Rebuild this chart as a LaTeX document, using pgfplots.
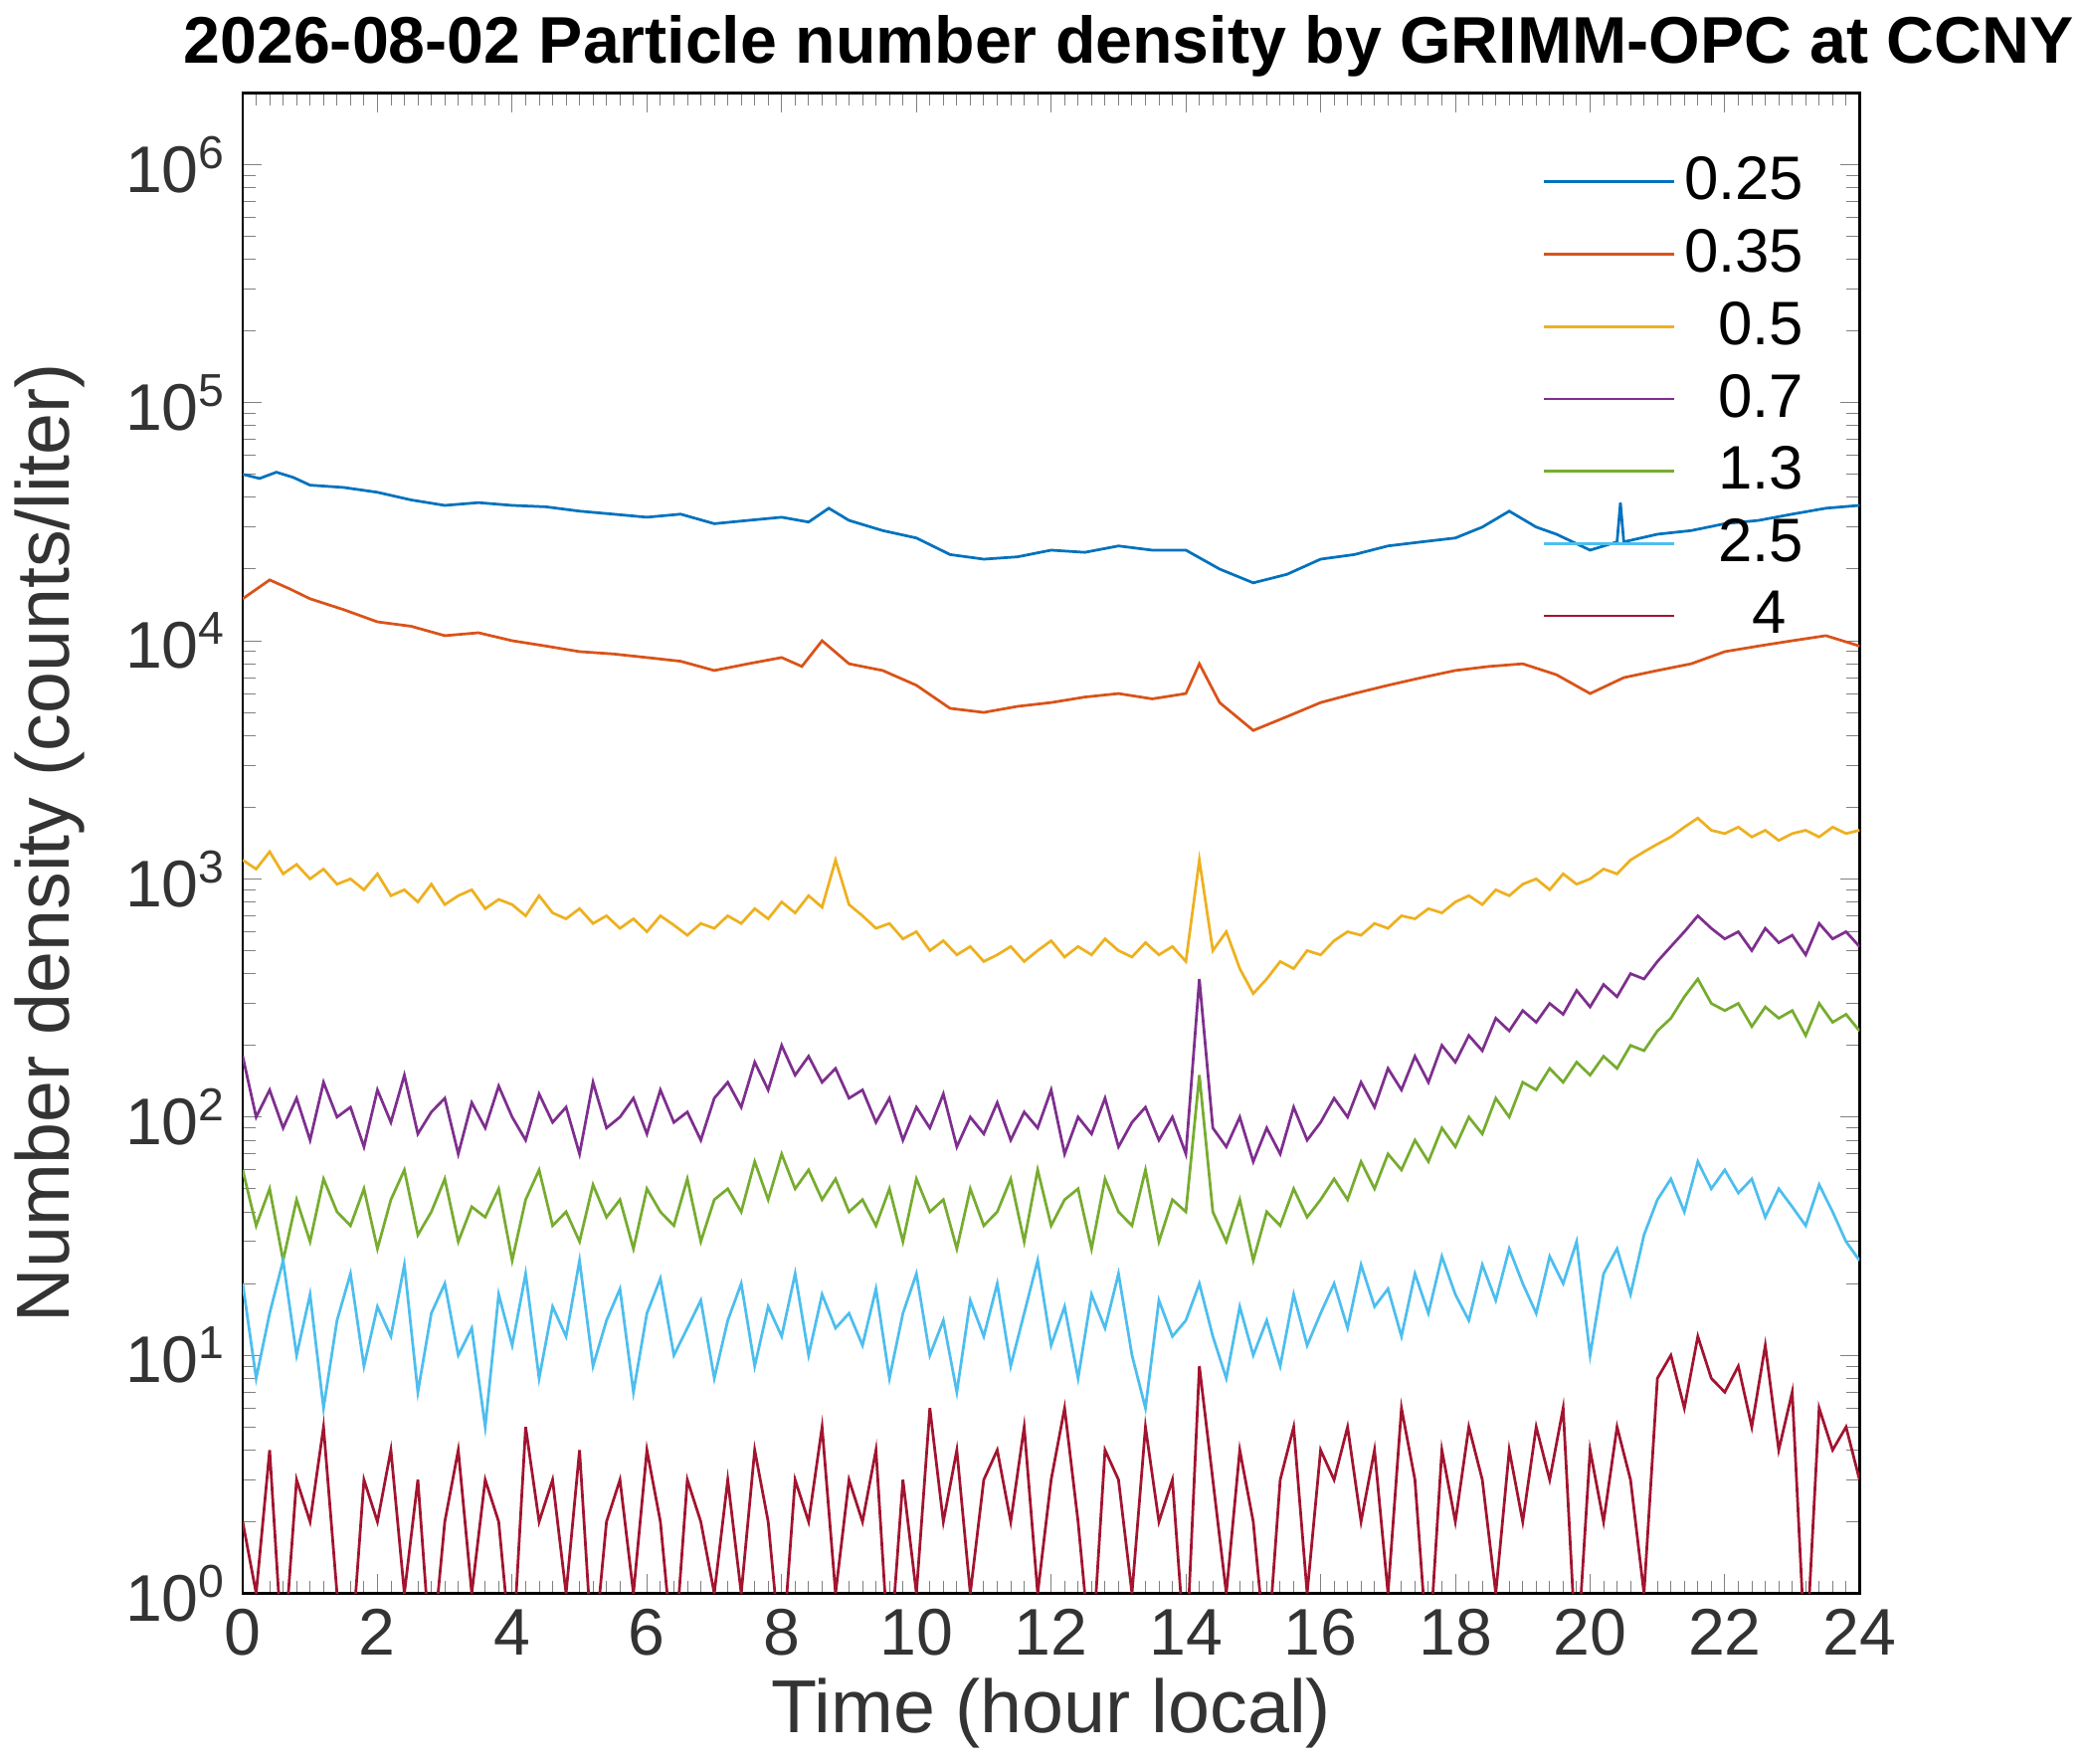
\documentclass[border=0pt]{standalone}
\usepackage{pgfplots}
\pgfplotsset{compat=1.18}
\usepackage{fontspec}
\setmainfont{Liberation Sans}
\definecolor{c1}{HTML}{0072BD}\definecolor{c2}{HTML}{D95319}\definecolor{c3}{HTML}{EDB120}
\definecolor{c4}{HTML}{7E2F8E}\definecolor{c5}{HTML}{77AC30}\definecolor{c6}{HTML}{4DBEEE}\definecolor{c7}{HTML}{A2142F}
\begin{document}
\begin{tikzpicture}
\begin{axis}[scale only axis, width=12.5cm, height=11.6cm,
 ymode=log, ymin=1, ymax=2e6, xmin=0, xmax=24, xtick={0,2,...,24},
 ytick={1,10,100,1000,10000,100000,1000000},
 yticklabels={10\textsuperscript{0},10\textsuperscript{1},10\textsuperscript{2},10\textsuperscript{3},10\textsuperscript{4},10\textsuperscript{5},10\textsuperscript{6}},
 minor x tick num=9, tick align=inside, axis line style={line width=0.6pt},
 /pgf/number format/assume math mode=true,
 ticklabel style={font=\fontsize{14.5}{16}\selectfont, color=black!80},
 xlabel={Time (hour local)}, ylabel={Number density (counts/liter)},
 xlabel style={yshift=2pt}, ylabel style={yshift=2pt},
 label style={font=\fontsize{16.5}{18}\selectfont, color=black!80},
 title={\textbf{2026-08-02 Particle number density by GRIMM-OPC at CCNY}},
 title style={font=\fontsize{14.5}{16}\selectfont, yshift=-6pt, xshift=0.6cm},
 legend style={at={(0.98,0.97)}, anchor=north east, draw=none, fill=none, font=\fontsize{13.5}{15}\selectfont, row sep=1pt},
 legend cell align=right,
 legend image code/.code={\draw[#1] (0cm,0cm) -- (1.0cm,0cm);},
 every axis plot/.append style={line width=0.6pt}, clip=true]
\addplot[c1] coordinates {(0,50000)(0.25,48000)(0.5,51000)(0.75,48500)(1,45000)(1.5,44000)(2,42000)(2.5,39000)(3,37000)(3.5,38000)(4,37000)(4.5,36500)(5,35000)(5.5,34000)(6,33000)(6.5,34000)(7,31000)(7.5,32000)(8,33000)(8.4,31500)(8.7,36000)(9,32000)(9.5,29000)(10,27000)(10.5,23000)(11,22000)(11.5,22500)(12,24000)(12.5,23500)(13,25000)(13.5,24000)(14,24000)(14.5,20000)(15,17500)(15.5,19000)(16,22000)(16.5,23000)(17,25000)(17.5,26000)(18,27000)(18.4,30000)(18.8,35000)(19.2,30000)(19.5,28000)(20,24000)(20.4,26000)(20.45,38000)(20.5,26000)(21,28000)(21.5,29000)(22,31000)(22.5,32000)(23,34000)(23.5,36000)(24,37000)};
\addplot[c2] coordinates {(0,15000)(0.4,18000)(0.7,16500)(1,15000)(1.5,13500)(2,12000)(2.5,11500)(3,10500)(3.5,10800)(4,10000)(4.5,9500)(5,9000)(5.5,8800)(6,8500)(6.5,8200)(7,7500)(7.5,8000)(8,8500)(8.3,7800)(8.6,10000)(9,8000)(9.5,7500)(10,6500)(10.5,5200)(11,5000)(11.5,5300)(12,5500)(12.5,5800)(13,6000)(13.5,5700)(14,6000)(14.2,8000)(14.5,5500)(15,4200)(15.5,4800)(16,5500)(16.5,6000)(17,6500)(17.5,7000)(18,7500)(18.5,7800)(19,8000)(19.5,7200)(20,6000)(20.5,7000)(21,7500)(21.5,8000)(22,9000)(22.5,9500)(23,10000)(23.5,10500)(24,9500)};
\addplot[c3] table[row sep=\\, header=false, x expr=\coordindex/5, y index=0] {1200\\1100\\1300\\1050\\1150\\1000\\1100\\950\\1000\\900\\1050\\850\\900\\800\\950\\780\\850\\900\\750\\820\\780\\700\\850\\720\\680\\750\\650\\700\\620\\680\\600\\700\\640\\580\\650\\620\\700\\650\\750\\680\\800\\720\\850\\760\\1200\\780\\700\\620\\650\\560\\600\\500\\550\\480\\520\\450\\480\\520\\450\\500\\550\\470\\520\\480\\560\\500\\470\\540\\480\\520\\450\\1200\\500\\600\\420\\330\\380\\450\\420\\500\\480\\550\\600\\580\\650\\620\\700\\680\\750\\720\\800\\850\\780\\900\\850\\950\\1000\\900\\1050\\950\\1000\\1100\\1050\\1200\\1300\\1400\\1500\\1650\\1800\\1600\\1550\\1650\\1500\\1600\\1450\\1550\\1600\\1500\\1650\\1550\\1600\\};
\addplot[c4] table[row sep=\\, header=false, x expr=\coordindex/5, y index=0] {180\\100\\130\\90\\120\\80\\140\\100\\110\\75\\130\\95\\150\\85\\105\\120\\70\\115\\90\\135\\100\\80\\125\\95\\110\\70\\140\\90\\100\\120\\85\\130\\95\\105\\80\\120\\140\\110\\170\\130\\200\\150\\180\\140\\160\\120\\130\\95\\120\\80\\110\\90\\125\\75\\100\\85\\115\\80\\105\\90\\130\\70\\100\\85\\120\\75\\95\\110\\80\\100\\70\\380\\90\\75\\100\\65\\90\\70\\110\\80\\95\\120\\100\\140\\110\\160\\130\\180\\140\\200\\170\\220\\190\\260\\230\\280\\250\\300\\270\\340\\290\\360\\320\\400\\380\\450\\520\\600\\700\\620\\560\\600\\500\\620\\540\\580\\480\\650\\560\\600\\520\\};
\addplot[c5] table[row sep=\\, header=false, x expr=\coordindex/5, y index=0] {60\\35\\50\\25\\45\\30\\55\\40\\35\\50\\28\\45\\60\\32\\40\\55\\30\\42\\38\\50\\25\\45\\60\\35\\40\\30\\52\\38\\45\\28\\50\\40\\35\\55\\30\\45\\50\\40\\65\\45\\70\\50\\60\\45\\55\\40\\45\\35\\50\\30\\55\\40\\45\\28\\50\\35\\40\\55\\30\\60\\35\\45\\50\\28\\55\\40\\35\\60\\30\\45\\40\\150\\40\\30\\45\\25\\40\\35\\50\\38\\45\\55\\45\\65\\50\\70\\60\\80\\65\\90\\75\\100\\85\\120\\100\\140\\130\\160\\140\\170\\150\\180\\160\\200\\190\\230\\260\\320\\380\\300\\280\\300\\240\\290\\260\\280\\220\\300\\250\\270\\230\\};
\addplot[c6] table[row sep=\\, header=false, x expr=\coordindex/5, y index=0] {20\\8\\15\\25\\10\\18\\6\\14\\22\\9\\16\\12\\24\\7\\15\\20\\10\\13\\5\\18\\11\\22\\8\\16\\12\\25\\9\\14\\19\\7\\15\\21\\10\\13\\17\\8\\14\\20\\9\\16\\12\\22\\10\\18\\13\\15\\11\\19\\8\\15\\22\\10\\14\\7\\17\\12\\20\\9\\15\\25\\11\\16\\8\\18\\13\\22\\10\\6\\17\\12\\14\\20\\12\\8\\16\\10\\14\\9\\18\\11\\15\\20\\13\\24\\16\\19\\12\\22\\15\\26\\18\\14\\24\\17\\28\\20\\15\\26\\20\\30\\10\\22\\28\\18\\32\\45\\55\\40\\65\\50\\60\\48\\55\\38\\50\\42\\35\\52\\40\\30\\25\\};
\addplot[c7] table[row sep=\\, header=false, x expr=\coordindex/5, y index=0] {2\\1\\4\\0.5\\3\\2\\5\\1\\0.5\\3\\2\\4\\1\\3\\0.5\\2\\4\\1\\3\\2\\0.5\\5\\2\\3\\1\\4\\0.5\\2\\3\\1\\4\\2\\0.5\\3\\2\\1\\3\\1\\4\\2\\0.5\\3\\2\\5\\1\\3\\2\\4\\0.5\\3\\1\\6\\2\\4\\1\\3\\4\\2\\5\\1\\3\\6\\2\\0.5\\4\\3\\1\\5\\2\\3\\0.5\\9\\3\\1\\4\\2\\0.5\\3\\5\\1\\4\\3\\5\\2\\4\\1\\6\\3\\0.5\\4\\2\\5\\3\\1\\4\\2\\5\\3\\6\\0.5\\4\\2\\5\\3\\1\\8\\10\\6\\12\\8\\7\\9\\5\\11\\4\\7\\0.5\\6\\4\\5\\3\\};
\legend{0.25,0.35,\ 0.5,\ 0.7,\ 1.3,\ 2.5,\ \ 4\ \ }
\end{axis}
\end{tikzpicture}
\end{document}
